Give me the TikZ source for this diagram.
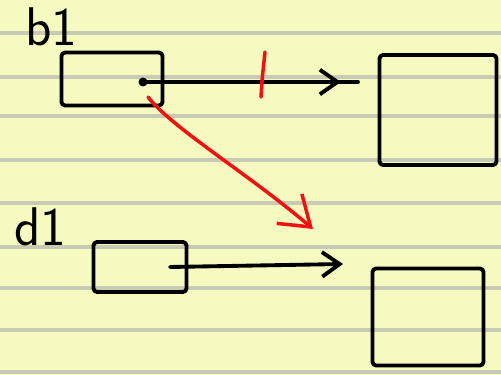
\documentclass[tikz,border=0pt]{standalone}
\usepackage{tikz}
\usetikzlibrary{arrows.meta,decorations.markings}
\definecolor{paper}{RGB}{246,250,192}
\definecolor{ruling}{RGB}{201,202,180}
\definecolor{penred}{RGB}{240,18,18}

\begin{document}
\begin{tikzpicture}[x=0.02cm, y=-0.02cm,
    >={Straight Barb[length=10pt,width=14pt]},
    pen/.style={draw=black, line width=2.2pt, line cap=round, line join=round},
    box/.style={rectangle, pen, rounded corners=2pt, inner sep=0pt},
    redpen/.style={draw=penred, line width=2pt, line cap=round, line join=round},
    tag/.style={font=\sffamily\fontsize{31}{34}\selectfont, inner sep=0pt}
]

% Paper with ruled lines
\useasboundingbox (0,0) rectangle (501,375);
\fill[paper] (0,0) rectangle (501,375);
\foreach \y in {33,77,116,160,203,247,288,330,372}
    \draw[ruling, line width=2.4pt] (0,\y) -- (501,\y);

% Labels
\node[tag] (b1label) at (51,27) {b1};
\node[tag] (d1label) at (40,227) {d1};

% Boxes
\node[box, minimum width=2.02cm, minimum height=1.06cm] (b1box) at (112,79) {};
\node[box, minimum width=2.34cm, minimum height=2.2cm] (b1target) at (438,110) {};
\node[box, minimum width=1.86cm, minimum height=1cm] (d1box) at (140,267) {};
\node[box, minimum width=2.22cm, minimum height=1.94cm] (d1target) at (428,317) {};

% Arrow ends
\coordinate (b1dot) at (143,82);
\coordinate (b1end) at (358,82);
\coordinate (b1tail) at (148,97);
\coordinate (d1hit) at (313,229);
\coordinate (d1dot) at (170,267);
\coordinate (d1end) at (343,264);

% Black arrows
\fill (b1dot) circle (4.5);
\draw[pen, postaction={decorate},
    decoration={markings, mark=at position 0.92 with {\arrow{>}}}] (b1dot) -- (b1end);
\draw[pen, ->] (d1dot) -- (d1end);

% Red cut mark and red arrow
\draw[redpen] (265,52) .. controls (262,80) .. (261,97);
\draw[redpen, -{Straight Barb[length=16pt,width=22pt]}]
    (b1tail) .. controls (172,128) and (250,175) .. (d1hit);

\end{tikzpicture}
\end{document}
